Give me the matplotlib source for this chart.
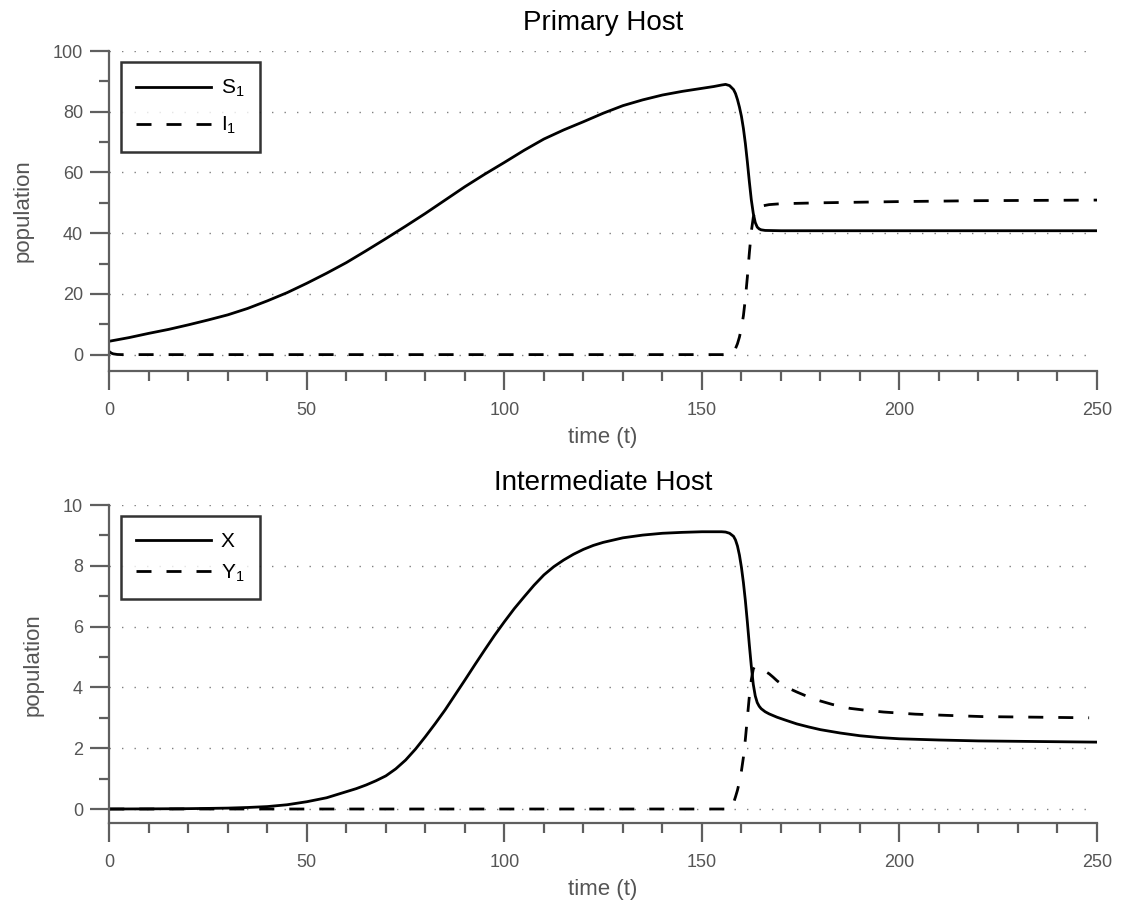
import matplotlib
matplotlib.use("Agg")
import matplotlib.pyplot as plt
from matplotlib.ticker import MultipleLocator

# ---------------- data ----------------
t_S1 = [0, 5, 10, 15, 20, 25, 30, 35, 40, 45, 50, 55, 60, 65, 70, 75, 80, 85,
        90, 95, 100, 105, 110, 115, 120, 125, 130, 135, 140, 145, 150, 153,
        155, 156, 157, 158, 158.5, 159, 159.5, 160, 160.5, 161, 161.5, 162,
        162.5, 163, 163.5, 164, 164.5, 165, 166, 170, 200, 250]
S1 = [4.4, 5.6, 7.0, 8.3, 9.8, 11.4, 13.1, 15.2, 17.7, 20.4, 23.5, 26.8, 30.3,
      34.2, 38.2, 42.3, 46.5, 50.9, 55.3, 59.4, 63.3, 67.3, 71.0, 74.0, 76.7,
      79.5, 82.0, 83.9, 85.5, 86.7, 87.7, 88.3, 88.8, 89.0, 88.6, 87.3, 86.0,
      84.0, 81.5, 78.5, 74.5, 69.5, 63.5, 57.0, 51.0, 46.5, 43.5, 42.0, 41.4,
      41.1, 40.9, 40.8, 40.8, 40.8]

t_I1 = [0, 0.5, 1, 2, 3, 50, 100, 150, 157, 157.5, 158, 158.5, 159, 159.5,
        160, 160.5, 161, 161.5, 162, 162.5, 163, 163.5, 164, 165, 167, 170,
        180, 200, 220, 250]
I1 = [1.0, 0.5, 0.25, 0.05, 0.0, 0.0, 0.0, 0.0, 0.0, 0.3, 0.9, 2.0, 3.6, 5.8,
      8.8, 12.8, 18.5, 25.5, 33.4, 40.5, 45.2, 47.5, 48.4, 48.9, 49.4, 49.7,
      50.0, 50.4, 50.7, 50.9]

t_X = [0, 10, 20, 25, 30, 35, 40, 45, 50, 55, 60, 62.5, 65, 67.5, 70, 72.5,
       75, 77.5, 80, 82.5, 85, 87.5, 90, 92.5, 95, 97.5, 100, 102.5, 105,
       107.5, 110, 112.5, 115, 117.5, 120, 122.5, 125, 130, 135, 140, 145, 150,
       155, 156, 157, 158, 158.5, 159, 159.5, 160, 160.5, 161, 161.5, 162,
       162.5, 163, 163.5, 164, 164.5, 165, 166, 167, 169, 171, 174, 177, 180,
       185, 190, 195, 200, 210, 220, 235, 250]
X = [0.0, 0.005, 0.012, 0.02, 0.03, 0.05, 0.08, 0.14, 0.24, 0.37, 0.57, 0.67,
     0.79, 0.93, 1.09, 1.32, 1.61, 1.97, 2.38, 2.81, 3.26, 3.75, 4.24, 4.74,
     5.23, 5.71, 6.16, 6.59, 6.98, 7.36, 7.70, 7.97, 8.19, 8.38, 8.54, 8.67,
     8.77, 8.92, 9.01, 9.07, 9.10, 9.12, 9.12, 9.11, 9.07, 8.97, 8.85, 8.65,
     8.35, 7.95, 7.45, 6.85, 6.15, 5.40, 4.70, 4.10, 3.72, 3.50, 3.38, 3.30,
     3.20, 3.13, 3.02, 2.93, 2.80, 2.70, 2.61, 2.50, 2.41, 2.35, 2.31, 2.27,
     2.24, 2.22, 2.20]

t_Y1 = [0, 50, 100, 150, 157, 157.5, 158, 158.5, 159, 159.5, 160, 160.5, 161,
        161.5, 162, 162.5, 163, 163.3, 164, 165, 166, 167, 168, 169, 170, 172,
        174, 176, 179, 183, 187.5, 192, 196, 204, 212, 221, 235, 248]
Y1 = [0.0, 0.0, 0.0, 0.0, 0.0, 0.08, 0.2, 0.4, 0.62, 0.9, 1.25, 1.7, 2.3, 3.0,
      3.7, 4.25, 4.6, 4.68, 4.67, 4.6, 4.53, 4.45, 4.34, 4.22, 4.12, 3.97,
      3.85, 3.74, 3.59, 3.44, 3.31, 3.24, 3.19, 3.12, 3.08, 3.04, 3.02, 3.0]

titles = ["Primary Host", "Intermediate Host"]
legend_top = ["S$_1$", "I$_1$"]
legend_bottom = ["X", "Y$_1$"]
x_label = "time (t)"
y_label = "population"

# ---------------- fonts ----------------
plt.rcParams["font.family"] = ["Liberation Sans", "DejaVu Sans"]
plt.rcParams["mathtext.fontset"] = "custom"
plt.rcParams["mathtext.rm"] = "Liberation Sans"
plt.rcParams["mathtext.it"] = "Liberation Sans"

fig = plt.figure(figsize=(11.28, 9.13), dpi=100)
W, H = 1128, 913


def ax_rect(l, r, t, b):
    return [l / W, 1 - b / H, (r - l) / W, (b - t) / H]


ax1 = fig.add_axes(ax_rect(109.3, 1097, 51, 371))
ax2 = fig.add_axes(ax_rect(109.3, 1097, 505, 823.3))

grey = "#5f5f5f"
dash = (5.4, 5.4)


def style(ax, ylim, ymaj, ymin, title, handles, labels, tpad, lspace):
    ax.set_xlim(0, 250)
    ax.set_ylim(*ylim)
    ax.xaxis.set_major_locator(MultipleLocator(50))
    ax.xaxis.set_minor_locator(MultipleLocator(10))
    ax.yaxis.set_major_locator(MultipleLocator(ymaj))
    ax.yaxis.set_minor_locator(MultipleLocator(ymin))
    for s in ["top", "right"]:
        ax.spines[s].set_visible(False)
    for s in ["left", "bottom"]:
        ax.spines[s].set_color(grey)
        ax.spines[s].set_linewidth(1.6)
    ax.tick_params(axis="both", which="major", direction="out", length=14,
                   width=1.6, color=grey, labelcolor="#555555", labelsize=13,
                   pad=5)
    ax.tick_params(axis="both", which="minor", direction="out", length=7,
                   width=1.6, color=grey)
    ax.tick_params(axis="x", which="major", pad=8)
    ax.grid(axis="y", which="major", color="#808080", linestyle=(0, (1, 8)),
            linewidth=1.0)
    ax.set_axisbelow(True)
    ax.set_title(title, fontsize=20, pad=tpad)
    ax.set_xlabel(x_label, fontsize=16, color="#555555", labelpad=6)
    ax.set_ylabel(y_label, fontsize=16, color="#555555", labelpad=14)
    leg = ax.legend(handles, labels, loc="upper left", fontsize=15,
                    frameon=True, fancybox=False, handlelength=3.6,
                    handletextpad=0.45, borderpad=0.75, labelspacing=lspace,
                    borderaxespad=0.55)
    leg.get_frame().set_edgecolor("black")
    leg.get_frame().set_linewidth(1.8)


l1, = ax1.plot(t_S1, S1, color="black", lw=2.0)
l2, = ax1.plot(t_I1, I1, color="black", lw=2.0, dashes=dash)
style(ax1, (-5.4, 100), 20, 10, titles[0], [l1, l2], legend_top, 15, 0.75)

l3, = ax2.plot(t_X, X, color="black", lw=2.0)
l4, = ax2.plot(t_Y1, Y1, color="black", lw=2.0, dashes=dash)
style(ax2, (-0.47, 10), 2, 1, titles[1], [l3, l4], legend_bottom, 11, 0.55)

fig.savefig("out.png", dpi=100)
